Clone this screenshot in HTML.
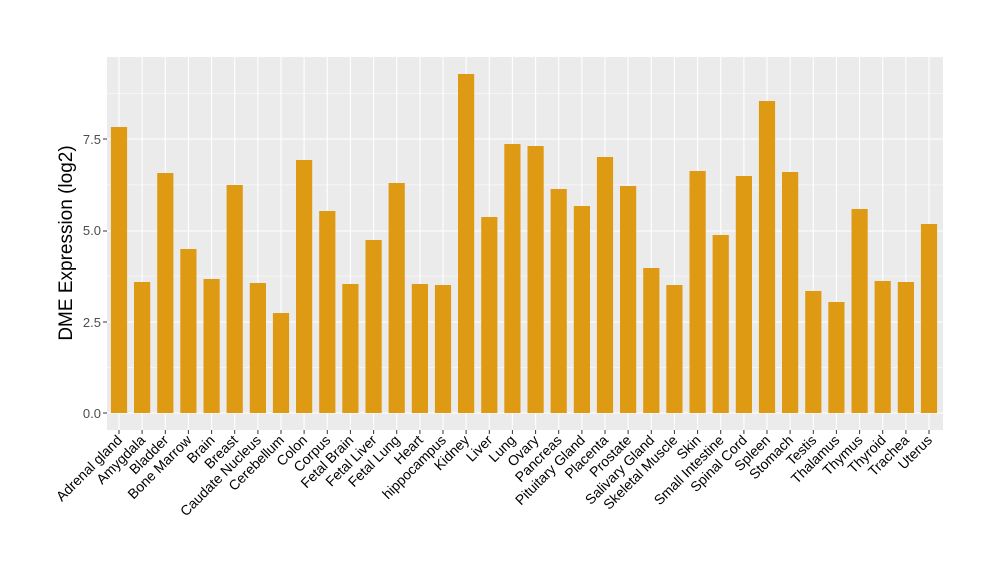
<!DOCTYPE html>
<html><head><meta charset="utf-8"><style>body{margin:0;background:#fff}svg{display:block}</style></head><body>
<svg width="1000" height="580" xmlns="http://www.w3.org/2000/svg" font-family="Liberation Sans, sans-serif">
<rect width="1000" height="580" fill="#fff"/>
<rect x="107" y="57" width="836" height="373" fill="#EBEBEB"/>
<g stroke="#fff" stroke-width="0.5">
<line x1="107" x2="943" y1="367.4" y2="367.4"/><line x1="107" x2="943" y1="276.1" y2="276.1"/><line x1="107" x2="943" y1="184.9" y2="184.9"/><line x1="107" x2="943" y1="93.6" y2="93.6"/>
</g>
<g stroke="#fff" stroke-width="1.1">
<line x1="107" x2="943" y1="413" y2="413"/><line x1="107" x2="943" y1="322" y2="322"/><line x1="107" x2="943" y1="231" y2="231"/><line x1="107" x2="943" y1="139" y2="139"/>
<line x1="119.0" x2="119.0" y1="57" y2="430"/><line x1="142.1" x2="142.1" y1="57" y2="430"/><line x1="165.3" x2="165.3" y1="57" y2="430"/><line x1="188.4" x2="188.4" y1="57" y2="430"/><line x1="211.6" x2="211.6" y1="57" y2="430"/><line x1="234.7" x2="234.7" y1="57" y2="430"/><line x1="257.9" x2="257.9" y1="57" y2="430"/><line x1="281.0" x2="281.0" y1="57" y2="430"/><line x1="304.1" x2="304.1" y1="57" y2="430"/><line x1="327.3" x2="327.3" y1="57" y2="430"/><line x1="350.4" x2="350.4" y1="57" y2="430"/><line x1="373.6" x2="373.6" y1="57" y2="430"/><line x1="396.7" x2="396.7" y1="57" y2="430"/><line x1="419.9" x2="419.9" y1="57" y2="430"/><line x1="443.0" x2="443.0" y1="57" y2="430"/><line x1="466.1" x2="466.1" y1="57" y2="430"/><line x1="489.3" x2="489.3" y1="57" y2="430"/><line x1="512.4" x2="512.4" y1="57" y2="430"/><line x1="535.6" x2="535.6" y1="57" y2="430"/><line x1="558.7" x2="558.7" y1="57" y2="430"/><line x1="581.9" x2="581.9" y1="57" y2="430"/><line x1="605.0" x2="605.0" y1="57" y2="430"/><line x1="628.1" x2="628.1" y1="57" y2="430"/><line x1="651.3" x2="651.3" y1="57" y2="430"/><line x1="674.4" x2="674.4" y1="57" y2="430"/><line x1="697.6" x2="697.6" y1="57" y2="430"/><line x1="720.7" x2="720.7" y1="57" y2="430"/><line x1="743.9" x2="743.9" y1="57" y2="430"/><line x1="767.0" x2="767.0" y1="57" y2="430"/><line x1="790.1" x2="790.1" y1="57" y2="430"/><line x1="813.3" x2="813.3" y1="57" y2="430"/><line x1="836.4" x2="836.4" y1="57" y2="430"/><line x1="859.6" x2="859.6" y1="57" y2="430"/><line x1="882.7" x2="882.7" y1="57" y2="430"/><line x1="905.9" x2="905.9" y1="57" y2="430"/><line x1="929.0" x2="929.0" y1="57" y2="430"/>
</g>
<g fill="#DF9A14">
<rect x="110.9" y="127" width="16.2" height="286"/>
<rect x="134.0" y="282" width="16.2" height="131"/>
<rect x="157.2" y="173" width="16.2" height="240"/>
<rect x="180.3" y="249" width="16.2" height="164"/>
<rect x="203.5" y="279" width="16.2" height="134"/>
<rect x="226.6" y="185" width="16.2" height="228"/>
<rect x="249.8" y="283" width="16.2" height="130"/>
<rect x="272.9" y="313" width="16.2" height="100"/>
<rect x="296.0" y="160" width="16.2" height="253"/>
<rect x="319.2" y="211" width="16.2" height="202"/>
<rect x="342.3" y="284" width="16.2" height="129"/>
<rect x="365.5" y="240" width="16.2" height="173"/>
<rect x="388.6" y="183" width="16.2" height="230"/>
<rect x="411.8" y="284" width="16.2" height="129"/>
<rect x="434.9" y="285" width="16.2" height="128"/>
<rect x="458.0" y="74" width="16.2" height="339"/>
<rect x="481.2" y="217" width="16.2" height="196"/>
<rect x="504.3" y="144" width="16.2" height="269"/>
<rect x="527.5" y="146" width="16.2" height="267"/>
<rect x="550.6" y="189" width="16.2" height="224"/>
<rect x="573.8" y="206" width="16.2" height="207"/>
<rect x="596.9" y="157" width="16.2" height="256"/>
<rect x="620.0" y="186" width="16.2" height="227"/>
<rect x="643.2" y="268" width="16.2" height="145"/>
<rect x="666.3" y="285" width="16.2" height="128"/>
<rect x="689.5" y="171" width="16.2" height="242"/>
<rect x="712.6" y="235" width="16.2" height="178"/>
<rect x="735.8" y="176" width="16.2" height="237"/>
<rect x="758.9" y="101" width="16.2" height="312"/>
<rect x="782.0" y="172" width="16.2" height="241"/>
<rect x="805.2" y="291" width="16.2" height="122"/>
<rect x="828.3" y="302" width="16.2" height="111"/>
<rect x="851.5" y="209" width="16.2" height="204"/>
<rect x="874.6" y="281" width="16.2" height="132"/>
<rect x="897.8" y="282" width="16.2" height="131"/>
<rect x="920.9" y="224" width="16.2" height="189"/>
</g>
<text transform="translate(72,243) rotate(-90)" text-anchor="middle" font-size="19" fill="#000">DME Expression (log2)</text>
<g font-size="13" fill="#4D4D4D" text-anchor="end">
<text x="101" y="418">0.0</text><text x="101" y="327">2.5</text><text x="101" y="235">5.0</text><text x="101" y="144">7.5</text>
</g>
<g stroke="#333" stroke-width="1">
<line x1="103" x2="107" y1="413" y2="413"/><line x1="103" x2="107" y1="322" y2="322"/><line x1="103" x2="107" y1="231" y2="231"/><line x1="103" x2="107" y1="139" y2="139"/>
<line x1="119.0" x2="119.0" y1="430" y2="434"/><line x1="142.1" x2="142.1" y1="430" y2="434"/><line x1="165.3" x2="165.3" y1="430" y2="434"/><line x1="188.4" x2="188.4" y1="430" y2="434"/><line x1="211.6" x2="211.6" y1="430" y2="434"/><line x1="234.7" x2="234.7" y1="430" y2="434"/><line x1="257.9" x2="257.9" y1="430" y2="434"/><line x1="281.0" x2="281.0" y1="430" y2="434"/><line x1="304.1" x2="304.1" y1="430" y2="434"/><line x1="327.3" x2="327.3" y1="430" y2="434"/><line x1="350.4" x2="350.4" y1="430" y2="434"/><line x1="373.6" x2="373.6" y1="430" y2="434"/><line x1="396.7" x2="396.7" y1="430" y2="434"/><line x1="419.9" x2="419.9" y1="430" y2="434"/><line x1="443.0" x2="443.0" y1="430" y2="434"/><line x1="466.1" x2="466.1" y1="430" y2="434"/><line x1="489.3" x2="489.3" y1="430" y2="434"/><line x1="512.4" x2="512.4" y1="430" y2="434"/><line x1="535.6" x2="535.6" y1="430" y2="434"/><line x1="558.7" x2="558.7" y1="430" y2="434"/><line x1="581.9" x2="581.9" y1="430" y2="434"/><line x1="605.0" x2="605.0" y1="430" y2="434"/><line x1="628.1" x2="628.1" y1="430" y2="434"/><line x1="651.3" x2="651.3" y1="430" y2="434"/><line x1="674.4" x2="674.4" y1="430" y2="434"/><line x1="697.6" x2="697.6" y1="430" y2="434"/><line x1="720.7" x2="720.7" y1="430" y2="434"/><line x1="743.9" x2="743.9" y1="430" y2="434"/><line x1="767.0" x2="767.0" y1="430" y2="434"/><line x1="790.1" x2="790.1" y1="430" y2="434"/><line x1="813.3" x2="813.3" y1="430" y2="434"/><line x1="836.4" x2="836.4" y1="430" y2="434"/><line x1="859.6" x2="859.6" y1="430" y2="434"/><line x1="882.7" x2="882.7" y1="430" y2="434"/><line x1="905.9" x2="905.9" y1="430" y2="434"/><line x1="929.0" x2="929.0" y1="430" y2="434"/>
</g>
<g font-size="14" fill="#000" text-anchor="end">
<text transform="translate(123.0,441) rotate(-45)">Adrenal gland</text>
<text transform="translate(146.1,441) rotate(-45)">Amygdala</text>
<text transform="translate(169.3,441) rotate(-45)">Bladder</text>
<text transform="translate(192.4,441) rotate(-45)">Bone Marrow</text>
<text transform="translate(215.6,441) rotate(-45)">Brain</text>
<text transform="translate(238.7,441) rotate(-45)">Breast</text>
<text transform="translate(261.9,441) rotate(-45)">Caudate Nucleus</text>
<text transform="translate(285.0,441) rotate(-45)">Cerebellum</text>
<text transform="translate(308.1,441) rotate(-45)">Colon</text>
<text transform="translate(331.3,441) rotate(-45)">Corpus</text>
<text transform="translate(354.4,441) rotate(-45)">Fetal Brain</text>
<text transform="translate(377.6,441) rotate(-45)">Fetal Liver</text>
<text transform="translate(400.7,441) rotate(-45)">Fetal Lung</text>
<text transform="translate(423.9,441) rotate(-45)">Heart</text>
<text transform="translate(447.0,441) rotate(-45)">hippocampus</text>
<text transform="translate(470.1,441) rotate(-45)">Kidney</text>
<text transform="translate(493.3,441) rotate(-45)">Liver</text>
<text transform="translate(516.4,441) rotate(-45)">Lung</text>
<text transform="translate(539.6,441) rotate(-45)">Ovary</text>
<text transform="translate(562.7,441) rotate(-45)">Pancreas</text>
<text transform="translate(585.9,441) rotate(-45)">Pituitary Gland</text>
<text transform="translate(609.0,441) rotate(-45)">Placenta</text>
<text transform="translate(632.1,441) rotate(-45)">Prostate</text>
<text transform="translate(655.3,441) rotate(-45)">Salivary Gland</text>
<text transform="translate(678.4,441) rotate(-45)">Skeletal Muscle</text>
<text transform="translate(701.6,441) rotate(-45)">Skin</text>
<text transform="translate(724.7,441) rotate(-45)">Small Intestine</text>
<text transform="translate(747.9,441) rotate(-45)">Spinal Cord</text>
<text transform="translate(771.0,441) rotate(-45)">Spleen</text>
<text transform="translate(794.1,441) rotate(-45)">Stomach</text>
<text transform="translate(817.3,441) rotate(-45)">Testis</text>
<text transform="translate(840.4,441) rotate(-45)">Thalamus</text>
<text transform="translate(863.6,441) rotate(-45)">Thymus</text>
<text transform="translate(886.7,441) rotate(-45)">Thyroid</text>
<text transform="translate(909.9,441) rotate(-45)">Trachea</text>
<text transform="translate(933.0,441) rotate(-45)">Uterus</text>
</g>
</svg>
</body></html>
